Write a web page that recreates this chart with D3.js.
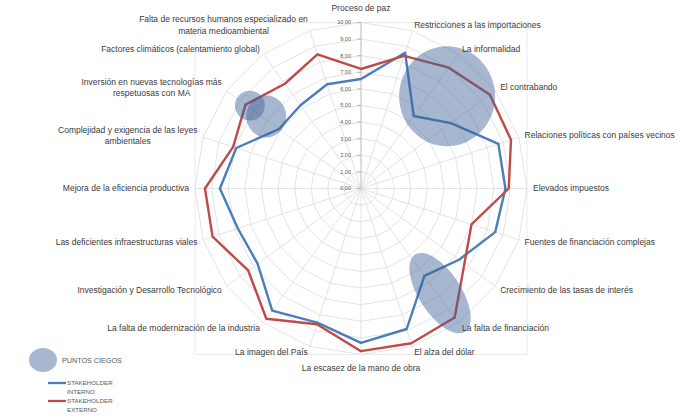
<!DOCTYPE html>
<html>
<head>
<meta charset="utf-8">
<script src="https://cdn.jsdelivr.net/npm/d3@7"></script>
<style>
  html, body { margin: 0; padding: 0; background: #fff; }
  svg { display: block; font-family: "Liberation Sans", Arial, sans-serif; }
</style>
</head>
<body>
<svg id="chart" width="680" height="418"></svg>
<script>
// Factors rated by each stakeholder group, clockwise from the top
const categories = [
  ["Proceso de paz"],
  ["Restricciones a las importaciones"],
  ["La informalidad"],
  ["El contrabando"],
  ["Relaciones políticas con países vecinos"],
  ["Elevados impuestos"],
  ["Fuentes de financiación complejas"],
  ["Crecimiento de las tasas de interés"],
  ["La falta de financiación"],
  ["El alza del dólar"],
  ["La escasez de la mano de obra"],
  ["La imagen del País"],
  ["La falta de modernización de la industria"],
  ["Investigación y Desarrollo Tecnológico"],
  ["Las deficientes infraestructuras viales"],
  ["Mejora de la eficiencia productiva"],
  ["Complejidad y exigencia  de las leyes", "ambientales"],
  ["Inversión en nuevas tecnologías más", "respetuosas con MA"],
  ["Factores climáticos (calentamiento global)"],
  ["Falta de recursos humanos especializado en", "materia medioambiental"]
];

const interno = [6.6, 8.6, 5.4, 6.7, 8.7, 8.7, 8.5, 7.3, 6.5, 8.9,
                 9.3, 8.5, 9.1, 7.7, 7.8, 8.5, 7.9, 6.1, 6.2, 6.6];
const externo = [7.2, 8.4, 9.0, 9.6, 9.5, 8.9, 7.0, 7.7, 9.6, 9.8,
                 9.8, 8.6, 9.7, 8.4, 9.4, 9.4, 8.1, 8.6, 7.8, 8.5];

const tickValues = d3.range(0, 11);
const tickLabels = tickValues.map(v => v.toFixed(2).replace(".", ","));

const seriesNames = [["STAKEHOLDER", "INTERNO"], ["STAKEHOLDER", "EXTERNO"]];
const blindSpotLabel = "PUNTOS CIEGOS";

// Blind-spot zones, placed in polar terms: category position, value, radii (in value units), tilt
const blindSpots = [
  { at: 2.39, value: 7.6, rx: 2.89, ry: 3.01, tilt: 0 },
  { at: 17.04, value: 8.35, rx: 0.9, ry: 0.9, tilt: 0 },
  { at: 17.07, value: 7.17, rx: 1.2, ry: 1.27, tilt: 0 },
  { at: 7.94, value: 7.9, rx: 2.77, ry: 1.27, tilt: 57 }
];

// ---- layout ----
const svg = d3.select("#chart");
const cx = 361, cy = 188.5, R = 166;
const N = categories.length;

const r = d3.scaleLinear().domain([0, 10]).range([0, R]);
const angle = d3.scaleLinear().domain([0, N]).range([0, 2 * Math.PI]);
const px = (i, v) => cx + r(v) * Math.sin(angle(i));
const py = (i, v) => cy - r(v) * Math.cos(angle(i));

const gridColor = "#dcdcdc";
const blue = "#4A7EBB";
const red = "#BE4B48";
const spotFill = "rgb(62,96,150)";
const spotOpacity = 0.45;

// frame of the plot area
svg.append("rect")
  .attr("x", cx - R).attr("y", cy - R)
  .attr("width", 2 * R).attr("height", 2 * R)
  .attr("fill", "none").attr("stroke", "#e6e6e6").attr("stroke-width", 0.8);

const g = svg.append("g");

// polygonal grid rings
const ringLine = d3.lineRadial()
  .angle((d, i) => angle(i))
  .radius(d => r(d))
  .curve(d3.curveLinearClosed);

g.selectAll("path.ring")
  .data(tickValues.slice(1))
  .join("path")
  .attr("class", "ring")
  .attr("transform", `translate(${cx},${cy})`)
  .attr("d", v => ringLine(d3.range(N).map(() => v)))
  .attr("fill", "none")
  .attr("stroke", gridColor)
  .attr("stroke-width", 0.8);

// spokes
g.selectAll("line.spoke")
  .data(d3.range(N))
  .join("line")
  .attr("class", "spoke")
  .attr("x1", cx).attr("y1", cy)
  .attr("x2", i => px(i, 10)).attr("y2", i => py(i, 10))
  .attr("stroke", gridColor)
  .attr("stroke-width", 0.8);

// value axis along the top spoke
g.append("line")
  .attr("x1", cx).attr("y1", cy).attr("x2", cx).attr("y2", cy - R)
  .attr("stroke", "#bfbfbf").attr("stroke-width", 0.8);

g.selectAll("line.tick")
  .data(tickValues)
  .join("line")
  .attr("class", "tick")
  .attr("x1", cx - 4).attr("x2", cx)
  .attr("y1", v => cy - r(v)).attr("y2", v => cy - r(v))
  .attr("stroke", "#a6a6a6").attr("stroke-width", 0.8);

g.selectAll("text.tick")
  .data(tickValues)
  .join("text")
  .attr("class", "tick")
  .attr("x", cx - 10)
  .attr("y", v => cy - r(v))
  .attr("dy", "0.35em")
  .attr("text-anchor", "end")
  .attr("font-size", 5.5)
  .attr("fill", "#595959")
  .text((v, i) => tickLabels[i]);

// series lines
const seriesLine = d3.lineRadial()
  .angle((d, i) => angle(i))
  .radius(d => r(d))
  .curve(d3.curveLinearClosed);

[[interno, blue], [externo, red]].forEach(([vals, color]) => {
  g.append("path")
    .attr("transform", `translate(${cx},${cy})`)
    .attr("d", seriesLine(vals))
    .attr("fill", "none")
    .attr("stroke", color)
    .attr("stroke-width", 2.4)
    .attr("stroke-linejoin", "round");
});

// blind-spot zones drawn over the lines
g.selectAll("ellipse.spot")
  .data(blindSpots)
  .join("ellipse")
  .attr("class", "spot")
  .attr("transform", d => `translate(${px(d.at, d.value)},${py(d.at, d.value)}) rotate(${d.tilt})`)
  .attr("rx", d => r(d.rx))
  .attr("ry", d => r(d.ry))
  .attr("fill", spotFill)
  .attr("fill-opacity", spotOpacity);

// category labels around the rim
const labelFont = 8.5;
const lineH = 11.5;
const labels = g.selectAll("g.cat")
  .data(categories)
  .join("g")
  .attr("class", "cat");

labels.each(function (lines, i) {
  const a = angle(i);
  const s = Math.sin(a), c = Math.cos(a);
  let x = cx + (R + 6) * s;
  let y = cy - (R + 6) * c;
  const anchor = Math.abs(s) < 1e-6 ? "middle" : (s > 0 ? "start" : "end");
  if (Math.abs(s) < 1e-6) y += c > 0 ? -8 : 8;
  const t = d3.select(this).append("text")
    .attr("font-size", labelFont)
    .attr("fill", "#3a3a3a");
  const spans = t.selectAll("tspan")
    .data(lines)
    .join("tspan")
    .text(d => d);
  // multi-line labels are centred within their own block
  const widths = [];
  spans.each(function () { widths.push(this.getComputedTextLength()); });
  const w = d3.max(widths);
  let mid;
  if (anchor === "middle") mid = x;
  else if (anchor === "start") mid = x + w / 2;
  else mid = x - w / 2;
  const y0 = y - (lines.length - 1) * lineH / 2;
  spans
    .attr("x", mid)
    .attr("y", (d, k) => y0 + k * lineH)
    .attr("dy", "0.35em")
    .attr("text-anchor", "middle");
});

// legend
const lg = svg.append("g");
lg.append("ellipse")
  .attr("cx", 43).attr("cy", 360)
  .attr("rx", 14).attr("ry", 12)
  .attr("fill", spotFill).attr("fill-opacity", spotOpacity);
lg.append("text")
  .attr("x", 62).attr("y", 360).attr("dy", "0.35em")
  .attr("font-size", 7.2).attr("fill", "#595959")
  .text(blindSpotLabel);

[[blue, 383], [red, 401]].forEach(([color, yy], k) => {
  lg.append("line")
    .attr("x1", 48).attr("x2", 66)
    .attr("y1", yy).attr("y2", yy)
    .attr("stroke", color).attr("stroke-width", 2.3);
  seriesNames[k].forEach((txt, j) => {
    lg.append("text")
      .attr("x", 67).attr("y", yy + j * 9).attr("dy", "0.35em")
      .attr("font-size", 6.2).attr("fill", "#595959")
      .text(txt);
  });
});
</script>
</body>
</html>
